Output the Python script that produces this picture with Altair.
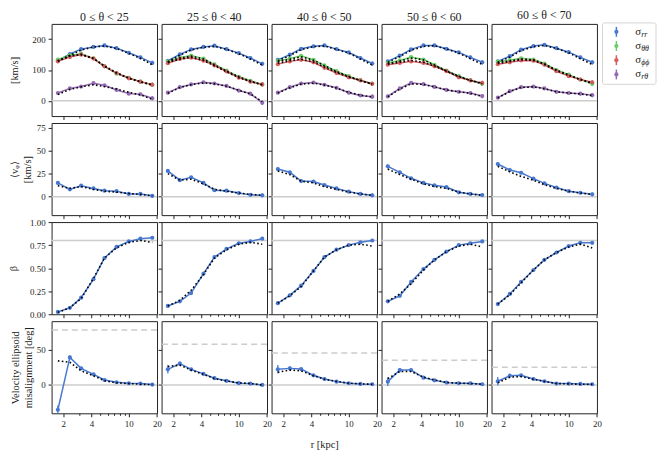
import altair as alt
import pandas as pd

FONT = "Liberation Serif"

# radial bin centres [kpc]
R = [1.75, 2.35, 3.1, 4.2, 5.5, 7.4, 10.0, 13.3, 17.8]
X_TICKS = [2, 3, 4, 5, 6, 7, 8, 9, 10, 20]
X_LABELLED = [2, 4, 10, 20]

BINS = ["0 ≤ θ < 25", "25 ≤ θ < 40", "40 ≤ θ < 50", "50 ≤ θ < 60", "60 ≤ θ < 70"]
MISALIGN_REF = [77.5, 57.5, 45.0, 35.0, 25.0]

COMPS = ["rr", "θθ", "ϕϕ", "rθ"]
COLORS = ["#4878d0", "#6acc64", "#d65f5f", "#956cb4"]

# ---- row 1: velocity dispersions [km/s] (data, model) per theta bin ----
SIG_RR = [
    [130, 152, 168, 175, 180, 171, 156, 141, 123],
    [130, 151, 167, 175, 179, 168, 155, 139, 120],
    [133, 150, 169, 177, 180, 168, 157, 139, 121],
    [128, 147, 167, 180, 180, 169, 157, 141, 125],
    [128, 145, 166, 178, 182, 171, 158, 141, 125],
]
SIG_RR_MODEL = [
    [128, 148, 165, 175, 178, 170, 154, 138, 117],
    [127, 148, 165, 174, 177, 167, 153, 136, 116],
    [130, 147, 166, 176, 178, 167, 155, 136, 116],
    [125, 144, 164, 177, 179, 168, 155, 137, 118],
    [125, 142, 163, 176, 180, 170, 156, 137, 118],
]
SIG_TT = [
    [134, 148, 153, 138, 112, 88, 74, 62, 52],
    [128, 140, 147, 137, 118, 98, 78, 65, 53],
    [130, 137, 146, 133, 115, 96, 80, 67, 55],
    [123, 131, 142, 134, 117, 98, 80, 67, 55],
    [127, 132, 138, 134, 121, 100, 85, 69, 55],
]
SIG_TT_MODEL = [
    [130, 146, 151, 138, 113, 91, 74, 62, 51],
    [126, 139, 145, 136, 117, 97, 78, 64, 52],
    [127, 135, 143, 132, 114, 95, 79, 66, 54],
    [121, 129, 139, 133, 116, 97, 80, 66, 55],
    [124, 130, 136, 133, 120, 100, 84, 69, 56],
]
SIG_PP = [
    [128, 142, 150, 137, 112, 90, 73, 62, 52],
    [122, 136, 140, 130, 115, 95, 75, 62, 53],
    [119, 128, 133, 125, 107, 90, 76, 66, 55],
    [117, 123, 128, 123, 112, 96, 76, 66, 58],
    [119, 125, 131, 130, 117, 96, 80, 69, 60],
]
SIG_PP_MODEL = [
    [129, 145, 150, 137, 112, 90, 73, 61, 51],
    [124, 135, 141, 131, 114, 94, 75, 62, 52],
    [122, 130, 135, 126, 109, 92, 77, 66, 54],
    [119, 125, 131, 125, 113, 96, 78, 66, 57],
    [121, 127, 133, 131, 118, 98, 82, 69, 58],
]
SIG_RT = [
    [25, 40, 46, 57, 50, 35, 23, 21, 8],
    [26, 44, 53, 60, 56, 48, 33, 23, -7],
    [26, 44, 56, 59, 52, 42, 26, 17, 13],
    [14, 40, 58, 54, 45, 35, 29, 25, 15],
    [10, 31, 44, 46, 40, 29, 25, 23, 18],
]
SIG_RT_MODEL = [
    [20, 37, 45, 52, 46, 38, 27, 19, 5],
    [24, 43, 52, 58, 55, 47, 34, 22, -3],
    [25, 42, 54, 57, 51, 41, 27, 18, 12],
    [13, 38, 55, 53, 45, 35, 29, 24, 14],
    [9, 30, 43, 45, 39, 29, 25, 22, 17],
]
SIG_ERR = [4, 3, 3, 3, 3, 3, 4, 5, 7]

# ---- row 2: mean azimuthal velocity [km/s] ----
VPHI = [
    [15, 8, 12, 9, 6.5, 6, 3, 3, 1],
    [28, 18, 21, 15, 7, 6.5, 4, 2, 1.5],
    [30, 26.5, 17, 16.5, 12.7, 9, 5.5, 3, 1.5],
    [33, 26.5, 20, 15, 12.4, 10.5, 4.8, 3, 1.8],
    [35.5, 29, 26, 19.6, 14.5, 10, 6, 4.3, 2.6],
]
VPHI_MODEL = [
    [12, 9, 11, 8, 6, 5, 3.5, 2.5, 1],
    [25, 18, 19, 14, 8, 6, 4, 2.5, 1.5],
    [28, 24, 17, 15, 11, 8, 5, 3, 1.5],
    [30, 24, 19, 14, 11, 9, 5, 3, 1.5],
    [33, 27, 22, 18, 13, 9, 6, 4, 2.5],
]
VPHI_ERR = [2, 1.5, 1.5, 1.5, 1.5, 1.5, 1.5, 1.5, 2]

# ---- row 3: anisotropy beta ----
BETA = [
    [0.025, 0.07, 0.18, 0.38, 0.61, 0.73, 0.79, 0.82, 0.83],
    [0.09, 0.14, 0.23, 0.44, 0.62, 0.71, 0.77, 0.79, 0.82],
    [0.12, 0.205, 0.31, 0.47, 0.62, 0.70, 0.75, 0.78, 0.80],
    [0.14, 0.20, 0.35, 0.49, 0.59, 0.68, 0.75, 0.77, 0.79],
    [0.11, 0.22, 0.35, 0.48, 0.59, 0.67, 0.74, 0.775, 0.775],
]
BETA_MODEL = [
    [0.02, 0.07, 0.17, 0.39, 0.61, 0.72, 0.78, 0.80, 0.78],
    [0.09, 0.15, 0.26, 0.43, 0.61, 0.70, 0.76, 0.78, 0.76],
    [0.12, 0.20, 0.30, 0.47, 0.62, 0.70, 0.75, 0.76, 0.74],
    [0.14, 0.22, 0.33, 0.48, 0.59, 0.68, 0.74, 0.76, 0.73],
    [0.11, 0.21, 0.34, 0.48, 0.59, 0.67, 0.73, 0.76, 0.72],
]
BETA_ERR = [0.015, 0.01, 0.01, 0.01, 0.01, 0.01, 0.01, 0.01, 0.015]

# ---- row 4: velocity ellipsoid misalignment [deg] ----
MIS = [
    [-35, 38.8, 23.4, 15, 7, 3.8, 2.4, 2, 0.5],
    [22, 30, 22, 15.6, 9.5, 5.8, 2.5, 2, 0],
    [22, 23.4, 22.4, 13.6, 8.4, 4.7, 2.4, 1.4, 1],
    [4.7, 21, 21, 10.3, 6.6, 3.3, 2.4, 2.4, 1],
    [5.2, 13, 13.6, 8.4, 5.2, 2, 2, 1.4, 1],
]
MIS_MODEL = [
    [34, 32, 20, 13, 6, 3, 2, 1, 0.5],
    [26, 28, 21, 15, 9, 5.5, 3, 2, 0],
    [18, 21, 20, 13, 8, 5, 2.5, 1.5, 1],
    [9, 19, 19, 11, 7, 3.5, 2.5, 2, 1],
    [3, 11, 12, 8, 5, 2, 1.5, 1, 0.8],
]
MIS_ERR = [6, 3, 2, 2, 1.5, 1.5, 1.5, 1.5, 1.5]

ROWS = [
    dict(domain=[-50, 250], ticks=[0, 100, 200], fmt="d", title="[km/s]", pad=12, ref=[0]),
    dict(domain=[-20, 80], ticks=[0, 25, 50, 75], fmt="d", title=["⟨vᵩ⟩", "[km/s]"], pad=4, ref=[0]),
    dict(domain=[0, 1], ticks=[0, 0.25, 0.5, 0.75, 1.0], fmt=".2f", title="β", pad=11, ref=[0.8]),
    dict(domain=[-40, 90], ticks=[0, 50], fmt="d", title=["Velocity ellipsoid", "misalignment [deg]"], pad=3, ref=[0]),
]

W, H = 106.4, 93


def frame(rows):
    recs = []
    for comp, vals, model, err in rows:
        for r, v, m, e in zip(R, vals, model, err):
            recs.append(dict(r=r, v=v, m=m, lo=v - e, hi=v + e, comp=comp))
    return pd.DataFrame(recs)


def panel(row, col):
    cfg = ROWS[row]
    if row == 0:
        df = frame([
            ("rr", SIG_RR[col], SIG_RR_MODEL[col], SIG_ERR),
            ("θθ", SIG_TT[col], SIG_TT_MODEL[col], SIG_ERR),
            ("ϕϕ", SIG_PP[col], SIG_PP_MODEL[col], SIG_ERR),
            ("rθ", SIG_RT[col], SIG_RT_MODEL[col], SIG_ERR),
        ])
    elif row == 1:
        df = frame([("rr", VPHI[col], VPHI_MODEL[col], VPHI_ERR)])
    elif row == 2:
        df = frame([("rr", BETA[col], BETA_MODEL[col], BETA_ERR)])
    else:
        df = frame([("rr", MIS[col], MIS_MODEL[col], MIS_ERR)])

    last = row == 3
    xaxis_kw = dict(
        values=X_TICKS, grid=False, domain=False, tickColor="#222",
        tickSize={"condition": {"test": "indexof([2, 4, 10, 20], datum.value) >= 0", "value": 3.5}, "value": 2},
        labels=last, labelFlush=False, labelOverlap=False, labelPadding=3,
        labelExpr="indexof([2, 4, 10, 20], datum.value) >= 0 ? format(datum.value, 'd') : ''",
    )
    if last and col == 2:
        xaxis_kw["title"] = "r [kpc]"
        xaxis_kw["titlePadding"] = 11
    else:
        xaxis_kw["title"] = None
    xaxis = alt.Axis(**xaxis_kw)

    yaxis_kw = dict(values=cfg["ticks"], grid=False, domain=False, tickSize=3.5, tickColor="#222",
                    labels=(col == 0), format=cfg["fmt"], labelPadding=3)
    if col == 0:
        yaxis_kw["title"] = cfg["title"]
        yaxis_kw["titlePadding"] = cfg["pad"]
    else:
        yaxis_kw["title"] = None
    yaxis = alt.Axis(**yaxis_kw)

    xs = alt.Scale(type="log", domain=[1.5, 20], nice=False)
    ys = alt.Scale(domain=cfg["domain"], nice=False, zero=False)
    X = alt.X("r:Q", scale=xs, axis=xaxis)
    color = alt.Color("comp:N", scale=alt.Scale(domain=COMPS, range=COLORS), legend=None)

    layers = []
    ref = pd.DataFrame({"v": cfg["ref"]})
    layers.append(alt.Chart(ref).mark_rule(color="#cccccc", strokeWidth=1.5).encode(
        y=alt.Y("v:Q", scale=ys, axis=yaxis)))
    if row == 3:
        dref = pd.DataFrame({"v": [MISALIGN_REF[col]]})
        layers.append(alt.Chart(dref).mark_rule(color="#cccccc", strokeWidth=1.5, strokeDash=[6, 4]).encode(
            y=alt.Y("v:Q", scale=ys, axis=yaxis)))

    base = alt.Chart(df)
    layers.append(base.mark_line(strokeWidth=1.5, clip=True).encode(
        x=X, y=alt.Y("v:Q", scale=ys, axis=yaxis), color=color, detail="comp:N"))
    layers.append(base.mark_rule(strokeWidth=1.3, clip=True).encode(
        x=X, y=alt.Y("lo:Q", scale=ys, axis=yaxis), y2="hi:Q", color=color))
    layers.append(base.mark_circle(size=18, opacity=1, clip=True).encode(
        x=X, y=alt.Y("v:Q", scale=ys, axis=yaxis), color=color))
    layers.append(base.mark_line(color="black", strokeDash=[1.6, 2.4], strokeWidth=1.6, clip=True).encode(
        x=X, y=alt.Y("m:Q", scale=ys, axis=yaxis), detail="comp:N"))

    if row == 0 and col == 4:
        one = pd.DataFrame({"k": [0]})
        layers.append(alt.Chart(one).mark_rect(fill="white", stroke="#d4d4d4", strokeWidth=1,
                                               cornerRadius=2).encode(
            x=alt.value(112), x2=alt.value(166), y=alt.value(-1), y2=alt.value(61)))
        subs = ["rr", "θθ", "ϕϕ", "rθ"]
        ypos = [8, 22.3, 36.6, 51]
        for c, s, yy in zip(COLORS, subs, ypos):
            layers.append(alt.Chart(one).mark_rule(color=c, strokeWidth=1.5).encode(
                x=alt.value(126), y=alt.value(yy - 5), y2=alt.value(yy + 5)))
            layers.append(alt.Chart(one).mark_circle(color=c, size=18, opacity=1).encode(
                x=alt.value(126), y=alt.value(yy)))
            layers.append(alt.Chart(one).mark_text(text="σ", align="left", baseline="middle",
                                                   fontSize=11, font=FONT, color="#222").encode(
                x=alt.value(145), y=alt.value(yy)))
            layers.append(alt.Chart(one).mark_text(text=s, align="left", baseline="middle",
                                                   fontSize=8, font=FONT, fontStyle="italic", color="#222").encode(
                x=alt.value(151), y=alt.value(yy + 3)))

    ch = alt.layer(*layers).properties(width=W, height=H)
    if row == 0:
        ch = ch.properties(title=alt.Title(BINS[col], fontSize=12, font=FONT, fontWeight="normal",
                                           offset=0, frame="group", color="#222"))
    return ch


panels = [panel(r, c) for r in range(4) for c in range(5)]

chart = alt.ConcatChart(
    concat=panels, columns=5, spacing={"row": 7, "column": 4}, bounds="flush"
).properties(
    padding={"top": -1, "left": 0, "right": 0, "bottom": 0}
).configure_view(
    stroke="#222", strokeWidth=1
).configure_axis(
    labelFont=FONT, titleFont=FONT, labelFontSize=9, titleFontSize=10.5,
    titleFontWeight="normal", labelColor="#222", titleColor="#222"
)

chart.save("out.html", embed_options={"renderer": "svg", "actions": False})
